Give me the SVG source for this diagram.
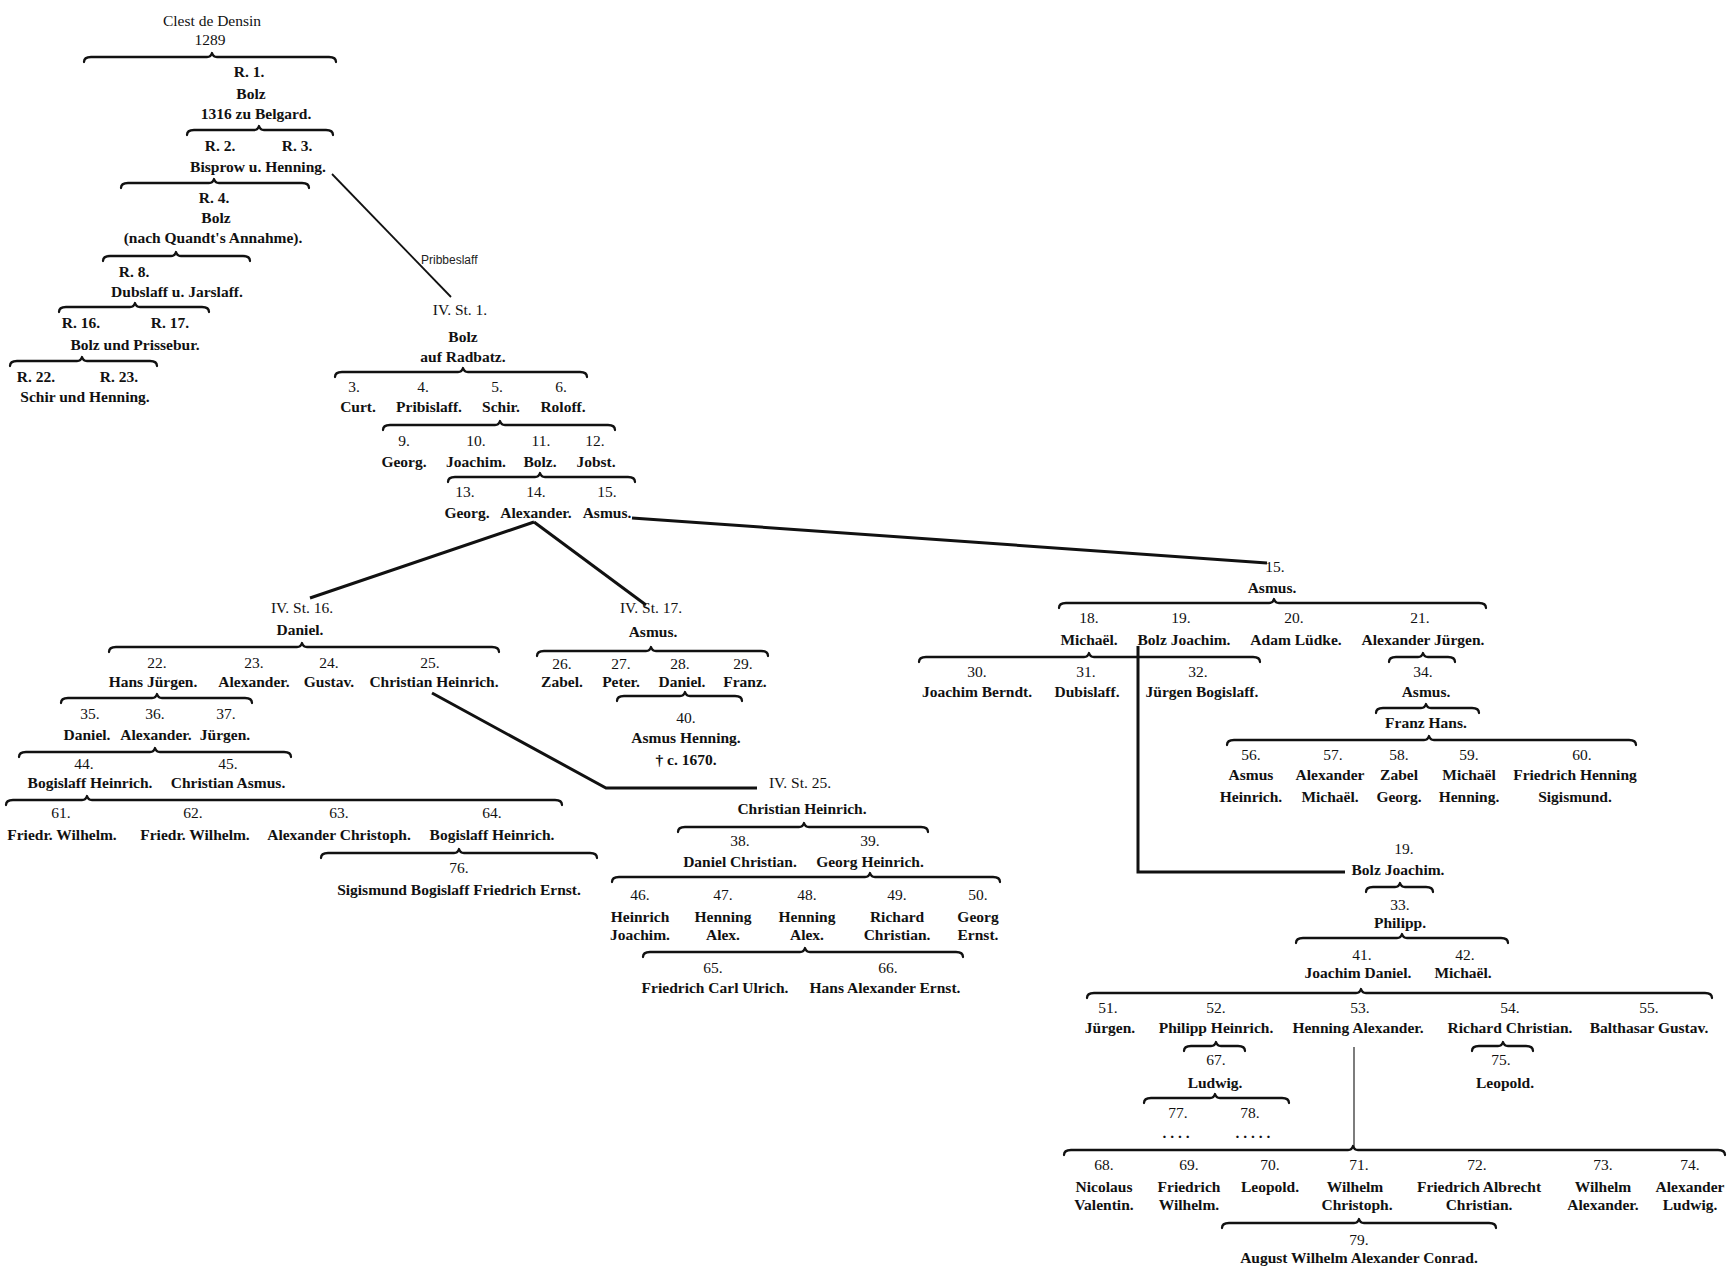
<svg xmlns="http://www.w3.org/2000/svg" width="1733" height="1287" viewBox="0 0 1733 1287">
<style>
text{font-family:"Liberation Serif","DejaVu Serif",serif;font-size:15.5px;text-anchor:middle;fill:#111}
.b{font-weight:bold}
.s{font-family:"Liberation Sans",Arial,sans-serif;font-size:12px;text-anchor:start;fill:#222}
.br{fill:none;stroke:#111;stroke-width:2.3;stroke-linecap:round;stroke-linejoin:round}
.ln{fill:none;stroke:#111;stroke-width:3}
.tn{fill:none;stroke:#111;stroke-width:1.8}
.hl{fill:none;stroke:#111;stroke-width:1.1}
</style>
<rect width="1733" height="1287" fill="#fff"/>
<g id="connectors">
<path class="br" d="M84 62Q84 57 91 57L207 57Q211 57 212 53Q213 57 217 57L329 57Q336 57 336 62"/>
<path class="br" d="M187 135Q187 130 194 130L254 130Q258 130 259 126Q260 130 264 130L326 130Q333 130 333 135"/>
<path class="br" d="M121 188Q121 183 128 183L209 183Q213 183 214 179Q215 183 219 183L302 183Q309 183 309 188"/>
<path class="br" d="M103 261Q103 256 110 256L171 256Q175 256 176 252Q177 256 181 256L243 256Q250 256 250 261"/>
<path class="br" d="M59 312Q59 307 66 307L130 307Q134 307 135 303Q136 307 140 307L202 307Q209 307 209 312"/>
<path class="br" d="M10 366Q10 361 17 361L77 361Q81 361 82 357Q83 361 87 361L150 361Q157 361 157 366"/>
<path class="br" d="M335 377Q335 372 342 372L458 372Q462 372 463 368Q464 372 468 372L580 372Q587 372 587 377"/>
<path class="br" d="M383 430Q383 425 390 425L495 425Q499 425 500 421Q501 425 505 425L608 425Q615 425 615 430"/>
<path class="br" d="M448 482Q448 477 455 477L535 477Q539 477 540 473Q541 477 545 477L628 477Q635 477 635 482"/>
<path class="br" d="M109 652Q109 647 116 647L297 647Q301 647 302 643Q303 647 307 647L492 647Q499 647 499 652"/>
<path class="br" d="M61 703Q61 698 68 698L152 698Q156 698 157 694Q158 698 162 698L245 698Q252 698 252 703"/>
<path class="br" d="M19 757Q19 752 26 752L150 752Q154 752 155 748Q156 752 160 752L284 752Q291 752 291 757"/>
<path class="br" d="M6 805Q6 800 13 800L82 800Q86 800 87 796Q88 800 92 800L555 800Q562 800 562 805"/>
<path class="br" d="M321 858Q321 853 328 853L454 853Q458 853 459 849Q460 853 464 853L590 853Q597 853 597 858"/>
<path class="br" d="M537 656Q537 651 544 651L646 651Q650 651 651 647Q652 651 656 651L761 651Q768 651 768 656"/>
<path class="br" d="M617 701Q617 696 624 696L680 696Q684 696 685 692Q686 696 690 696L735 696Q742 696 742 701"/>
<path class="br" d="M678 832Q678 827 685 827L799 827Q803 827 804 823Q805 827 809 827L921 827Q928 827 928 832"/>
<path class="br" d="M612 882Q612 877 619 877L865 877Q869 877 870 873Q871 877 875 877L993 877Q1000 877 1000 882"/>
<path class="br" d="M643 957Q643 952 650 952L800 952Q804 952 805 948Q806 952 810 952L956 952Q963 952 963 957"/>
<path class="br" d="M1059 608Q1059 603 1066 603L1269 603Q1273 603 1274 599Q1275 603 1279 603L1479 603Q1486 603 1486 608"/>
<path class="br" d="M919 662Q919 657 926 657L1084 657Q1088 657 1089 653Q1090 657 1094 657L1253 657Q1260 657 1260 662"/>
<path class="br" d="M1389 662Q1389 657 1396 657L1418 657Q1422 657 1423 653Q1424 657 1428 657L1448 657Q1455 657 1455 662"/>
<path class="br" d="M1376 713Q1376 708 1383 708L1421 708Q1425 708 1426 704Q1427 708 1431 708L1472 708Q1479 708 1479 713"/>
<path class="br" d="M1227 745Q1227 740 1234 740L1424 740Q1428 740 1429 736Q1430 740 1434 740L1629 740Q1636 740 1636 745"/>
<path class="br" d="M1366 892Q1366 887 1373 887L1395 887Q1399 887 1400 883Q1401 887 1405 887L1426 887Q1433 887 1433 892"/>
<path class="br" d="M1296 943Q1296 938 1303 938L1397 938Q1401 938 1402 934Q1403 938 1407 938L1501 938Q1508 938 1508 943"/>
<path class="br" d="M1087 998Q1087 993 1094 993L1356 993Q1360 993 1361 989Q1362 993 1366 993L1705 993Q1712 993 1712 998"/>
<path class="br" d="M1184 1051Q1184 1046 1191 1046L1211 1046Q1215 1046 1216 1042Q1217 1046 1221 1046L1238 1046Q1245 1046 1245 1051"/>
<path class="br" d="M1472 1051Q1472 1046 1479 1046L1498 1046Q1502 1046 1503 1042Q1504 1046 1508 1046L1526 1046Q1533 1046 1533 1051"/>
<path class="br" d="M1144 1103Q1144 1098 1151 1098L1210 1098Q1214 1098 1215 1094Q1216 1098 1220 1098L1282 1098Q1289 1098 1289 1103"/>
<path class="br" d="M1064 1155Q1064 1150 1071 1150L1348 1150Q1352 1150 1353 1146Q1354 1150 1358 1150L1718 1150Q1725 1150 1725 1155"/>
<path class="br" d="M1222 1228Q1222 1223 1229 1223L1354 1223Q1358 1223 1359 1219Q1360 1223 1364 1223L1489 1223Q1496 1223 1496 1228"/>
<path class="tn" d="M332 174L451 297"/>
<path class="ln" d="M534 522L310 598"/>
<path class="ln" d="M534 522L646 605"/>
<path class="ln" d="M632 518L1267 563"/>
<path class="ln" d="M432 693L606 788L757 788"/>
<path class="ln" d="M1138 646L1138 872L1345 872"/>
<path class="hl" d="M1354 1047L1354 1148"/>
<text class="s" x="421" y="264">Pribbeslaff</text>
</g>
<g id="n-root"><text x="212" y="26">Clest de Densin</text><text x="210" y="45">1289</text></g>
<g id="n-r1"><text x="249" y="77" class="b">R. 1.</text><text x="251" y="99" class="b">Bolz</text><text x="256" y="119" class="b">1316 zu Belgard.</text></g>
<g id="n-r2-r3"><text x="220" y="151" class="b">R. 2.</text><text x="297" y="151" class="b">R. 3.</text><text x="258" y="172" class="b">Bisprow u. Henning.</text></g>
<g id="n-r4"><text x="214" y="203" class="b">R. 4.</text><text x="216" y="223" class="b">Bolz</text><text x="213" y="243" class="b">(nach Quandt's Annahme).</text></g>
<g id="n-r8"><text x="134" y="277" class="b">R. 8.</text><text x="177" y="297" class="b">Dubslaff u. Jarslaff.</text></g>
<g id="n-r16-r17"><text x="81" y="328" class="b">R. 16.</text><text x="170" y="328" class="b">R. 17.</text><text x="135" y="350" class="b">Bolz und Prissebur.</text></g>
<g id="n-r22-r23"><text x="36" y="382" class="b">R. 22.</text><text x="119" y="382" class="b">R. 23.</text><text x="85" y="402" class="b">Schir und Henning.</text></g>
<g id="n-st1"><text x="460" y="315">IV. St. 1.</text><text x="463" y="342" class="b">Bolz</text><text x="463" y="362" class="b">auf Radbatz.</text></g>
<g id="n-3"><text x="354" y="392">3.</text><text x="358" y="412" class="b">Curt.</text></g>
<g id="n-4"><text x="423" y="392">4.</text><text x="429" y="412" class="b">Pribislaff.</text></g>
<g id="n-5"><text x="497" y="392">5.</text><text x="501" y="412" class="b">Schir.</text></g>
<g id="n-6"><text x="561" y="392">6.</text><text x="563" y="412" class="b">Roloff.</text></g>
<g id="n-9"><text x="404" y="446">9.</text><text x="404" y="467" class="b">Georg.</text></g>
<g id="n-10"><text x="476" y="446">10.</text><text x="476" y="467" class="b">Joachim.</text></g>
<g id="n-11"><text x="541" y="446">11.</text><text x="540" y="467" class="b">Bolz.</text></g>
<g id="n-12"><text x="595" y="446">12.</text><text x="596" y="467" class="b">Jobst.</text></g>
<g id="n-13"><text x="465" y="497">13.</text><text x="467" y="518" class="b">Georg.</text></g>
<g id="n-14"><text x="536" y="497">14.</text><text x="536" y="518" class="b">Alexander.</text></g>
<g id="n-15"><text x="607" y="497">15.</text><text x="607" y="518" class="b">Asmus.</text></g>
<g id="n-st16"><text x="302" y="613">IV. St. 16.</text><text x="300" y="635" class="b">Daniel.</text></g>
<g id="n-22"><text x="157" y="668">22.</text><text x="153" y="687" class="b">Hans Jürgen.</text></g>
<g id="n-23"><text x="254" y="668">23.</text><text x="254" y="687" class="b">Alexander.</text></g>
<g id="n-24"><text x="329" y="668">24.</text><text x="329" y="687" class="b">Gustav.</text></g>
<g id="n-25"><text x="430" y="668">25.</text><text x="434" y="687" class="b">Christian Heinrich.</text></g>
<g id="n-35"><text x="90" y="719">35.</text><text x="87" y="740" class="b">Daniel.</text></g>
<g id="n-36"><text x="155" y="719">36.</text><text x="156" y="740" class="b">Alexander.</text></g>
<g id="n-37"><text x="226" y="719">37.</text><text x="225" y="740" class="b">Jürgen.</text></g>
<g id="n-44"><text x="84" y="769">44.</text><text x="90" y="788" class="b">Bogislaff Heinrich.</text></g>
<g id="n-45"><text x="228" y="769">45.</text><text x="228" y="788" class="b">Christian Asmus.</text></g>
<g id="n-61"><text x="61" y="818">61.</text><text x="62" y="840" class="b">Friedr. Wilhelm.</text></g>
<g id="n-62"><text x="193" y="818">62.</text><text x="195" y="840" class="b">Friedr. Wilhelm.</text></g>
<g id="n-63"><text x="339" y="818">63.</text><text x="339" y="840" class="b">Alexander Christoph.</text></g>
<g id="n-64"><text x="492" y="818">64.</text><text x="492" y="840" class="b">Bogislaff Heinrich.</text></g>
<g id="n-76"><text x="459" y="873">76.</text><text x="459" y="895" class="b">Sigismund Bogislaff Friedrich Ernst.</text></g>
<g id="n-st17"><text x="651" y="613">IV. St. 17.</text><text x="653" y="637" class="b">Asmus.</text></g>
<g id="n-26"><text x="562" y="669">26.</text><text x="562" y="687" class="b">Zabel.</text></g>
<g id="n-27"><text x="621" y="669">27.</text><text x="621" y="687" class="b">Peter.</text></g>
<g id="n-28"><text x="680" y="669">28.</text><text x="682" y="687" class="b">Daniel.</text></g>
<g id="n-29"><text x="743" y="669">29.</text><text x="745" y="687" class="b">Franz.</text></g>
<g id="n-40"><text x="686" y="723">40.</text><text x="686" y="743" class="b">Asmus Henning.</text><text x="686" y="765" class="b">† c. 1670.</text></g>
<g id="n-st25"><text x="800" y="788">IV. St. 25.</text><text x="802" y="814" class="b">Christian Heinrich.</text></g>
<g id="n-38"><text x="740" y="846">38.</text><text x="740" y="867" class="b">Daniel Christian.</text></g>
<g id="n-39"><text x="870" y="846">39.</text><text x="870" y="867" class="b">Georg Heinrich.</text></g>
<g id="n-46"><text x="640" y="900">46.</text><text x="640" y="922" class="b">Heinrich</text><text x="640" y="940" class="b">Joachim.</text></g>
<g id="n-47"><text x="723" y="900">47.</text><text x="723" y="922" class="b">Henning</text><text x="723" y="940" class="b">Alex.</text></g>
<g id="n-48"><text x="807" y="900">48.</text><text x="807" y="922" class="b">Henning</text><text x="807" y="940" class="b">Alex.</text></g>
<g id="n-49"><text x="897" y="900">49.</text><text x="897" y="922" class="b">Richard</text><text x="897" y="940" class="b">Christian.</text></g>
<g id="n-50"><text x="978" y="900">50.</text><text x="978" y="922" class="b">Georg</text><text x="978" y="940" class="b">Ernst.</text></g>
<g id="n-65"><text x="713" y="973">65.</text><text x="715" y="993" class="b">Friedrich Carl Ulrich.</text></g>
<g id="n-66"><text x="888" y="973">66.</text><text x="885" y="993" class="b">Hans Alexander Ernst.</text></g>
<g id="n-15b"><text x="1275" y="572">15.</text><text x="1272" y="593" class="b">Asmus.</text></g>
<g id="n-18"><text x="1089" y="623">18.</text><text x="1089" y="645" class="b">Michaël.</text></g>
<g id="n-19"><text x="1181" y="623">19.</text><text x="1184" y="645" class="b">Bolz Joachim.</text></g>
<g id="n-20"><text x="1294" y="623">20.</text><text x="1296" y="645" class="b">Adam Lüdke.</text></g>
<g id="n-21"><text x="1420" y="623">21.</text><text x="1423" y="645" class="b">Alexander Jürgen.</text></g>
<g id="n-30"><text x="977" y="677">30.</text><text x="977" y="697" class="b">Joachim Berndt.</text></g>
<g id="n-31"><text x="1086" y="677">31.</text><text x="1087" y="697" class="b">Dubislaff.</text></g>
<g id="n-32"><text x="1198" y="677">32.</text><text x="1202" y="697" class="b">Jürgen Bogislaff.</text></g>
<g id="n-34"><text x="1423" y="677">34.</text><text x="1426" y="697" class="b">Asmus.</text></g>
<g id="n-franzhans"><text x="1426" y="728" class="b">Franz Hans.</text></g>
<g id="n-56"><text x="1251" y="760">56.</text><text x="1251" y="780" class="b">Asmus</text><text x="1251" y="802" class="b">Heinrich.</text></g>
<g id="n-57"><text x="1333" y="760">57.</text><text x="1330" y="780" class="b">Alexander</text><text x="1330" y="802" class="b">Michaël.</text></g>
<g id="n-58"><text x="1399" y="760">58.</text><text x="1399" y="780" class="b">Zabel</text><text x="1399" y="802" class="b">Georg.</text></g>
<g id="n-59"><text x="1469" y="760">59.</text><text x="1469" y="780" class="b">Michaël</text><text x="1469" y="802" class="b">Henning.</text></g>
<g id="n-60"><text x="1582" y="760">60.</text><text x="1575" y="780" class="b">Friedrich Henning</text><text x="1575" y="802" class="b">Sigismund.</text></g>
<g id="n-19b"><text x="1404" y="854">19.</text><text x="1398" y="875" class="b">Bolz Joachim.</text></g>
<g id="n-33"><text x="1400" y="910">33.</text><text x="1400" y="928" class="b">Philipp.</text></g>
<g id="n-41"><text x="1362" y="960">41.</text><text x="1358" y="978" class="b">Joachim Daniel.</text></g>
<g id="n-42"><text x="1465" y="960">42.</text><text x="1463" y="978" class="b">Michaël.</text></g>
<g id="n-51"><text x="1108" y="1013">51.</text><text x="1110" y="1033" class="b">Jürgen.</text></g>
<g id="n-52"><text x="1216" y="1013">52.</text><text x="1216" y="1033" class="b">Philipp Heinrich.</text></g>
<g id="n-53"><text x="1360" y="1013">53.</text><text x="1358" y="1033" class="b">Henning Alexander.</text></g>
<g id="n-54"><text x="1510" y="1013">54.</text><text x="1510" y="1033" class="b">Richard Christian.</text></g>
<g id="n-55"><text x="1649" y="1013">55.</text><text x="1649" y="1033" class="b">Balthasar Gustav.</text></g>
<g id="n-67"><text x="1216" y="1065">67.</text><text x="1215" y="1088" class="b">Ludwig.</text></g>
<g id="n-75"><text x="1501" y="1065">75.</text><text x="1505" y="1088" class="b">Leopold.</text></g>
<g id="n-77"><text x="1178" y="1118">77.</text><text x="1176" y="1138" class="b">. . . .</text></g>
<g id="n-78"><text x="1250" y="1118">78.</text><text x="1253" y="1138" class="b">. . . . .</text></g>
<g id="n-68"><text x="1104" y="1170">68.</text><text x="1104" y="1192" class="b">Nicolaus</text><text x="1104" y="1210" class="b">Valentin.</text></g>
<g id="n-69"><text x="1189" y="1170">69.</text><text x="1189" y="1192" class="b">Friedrich</text><text x="1189" y="1210" class="b">Wilhelm.</text></g>
<g id="n-70"><text x="1270" y="1170">70.</text><text x="1270" y="1192" class="b">Leopold.</text></g>
<g id="n-71"><text x="1359" y="1170">71.</text><text x="1355" y="1192" class="b">Wilhelm</text><text x="1357" y="1210" class="b">Christoph.</text></g>
<g id="n-72"><text x="1477" y="1170">72.</text><text x="1479" y="1192" class="b">Friedrich Albrecht</text><text x="1479" y="1210" class="b">Christian.</text></g>
<g id="n-73"><text x="1603" y="1170">73.</text><text x="1603" y="1192" class="b">Wilhelm</text><text x="1603" y="1210" class="b">Alexander.</text></g>
<g id="n-74"><text x="1690" y="1170">74.</text><text x="1690" y="1192" class="b">Alexander</text><text x="1690" y="1210" class="b">Ludwig.</text></g>
<g id="n-79"><text x="1359" y="1245">79.</text><text x="1359" y="1263" class="b">August Wilhelm Alexander Conrad.</text></g>
</svg>
